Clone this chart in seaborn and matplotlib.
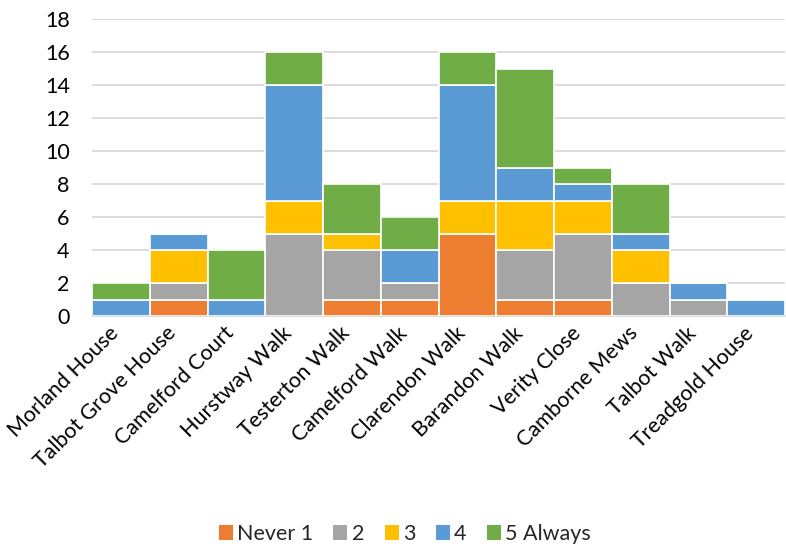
import matplotlib
matplotlib.use("Agg")
import matplotlib.pyplot as plt
import matplotlib.transforms as mtransforms
import seaborn as sns
import numpy as np
from matplotlib.patches import Patch

sns.set_theme(style="white")
plt.rcParams['font.family'] = ['Lato', 'DejaVu Sans']

locations = ["Morland House", "Talbot Grove House", "Camelford Court", "Hurstway Walk",
             "Testerton Walk", "Camelford Walk", "Clarendon Walk", "Barandon Walk",
             "Verity Close", "Camborne Mews", "Talbot Walk", "Treadgold House"]
series_names = ["Never 1", "2", "3", "4", "5 Always"]
never_1 = [0, 1, 0, 0, 1, 1, 5, 1, 1, 0, 0, 0]
score_2 = [0, 1, 0, 5, 3, 1, 0, 3, 4, 2, 1, 0]
score_3 = [0, 2, 0, 2, 1, 0, 2, 3, 2, 2, 0, 0]
score_4 = [1, 1, 1, 7, 0, 2, 7, 2, 1, 1, 1, 1]
always_5 = [1, 0, 3, 2, 3, 2, 2, 6, 1, 3, 0, 0]
colors = ["#ED7D31", "#A5A5A5", "#FFC000", "#5B9BD5", "#70AD47"]

fig = plt.figure(figsize=(7.86, 5.46), dpi=100)
ax = fig.add_axes([0.117, 0.421, 0.882, 0.544])

bottom = np.zeros(len(locations))
for name, vals, col in zip(series_names, [never_1, score_2, score_3, score_4, always_5], colors):
    sns.barplot(x=locations, y=vals, bottom=bottom, color=col, width=1.0, saturation=1,
                edgecolor="white", linewidth=1.2, ax=ax, zorder=3)
    bottom = bottom + np.array(vals)

ax.set_ylim(0, 18)
ax.set_xlim(-0.5, len(locations) - 0.5)
ax.set_yticks(range(0, 19, 2))
ax.yaxis.grid(True, color="#d9d9d9", linewidth=1.3, zorder=0)
ax.set_axisbelow(True)
for s in ["top", "right", "left"]:
    ax.spines[s].set_visible(False)
ax.spines["bottom"].set_color("#d9d9d9")
ax.spines["bottom"].set_linewidth(1.3)
ax.tick_params(axis="both", length=0, labelsize=15.5, colors="black")
ax.tick_params(axis="y", pad=16)
ax.tick_params(axis="x", pad=9)
shift = mtransforms.ScaledTranslation(-4 / 72, -1 / 72, fig.dpi_scale_trans)
for lbl in ax.get_xticklabels():
    lbl.set_rotation(45)
    lbl.set_ha("right")
    lbl.set_va("center")
    lbl.set_rotation_mode("anchor")
    lbl.set_transform(lbl.get_transform() + shift)
ax.set_xlabel("")
ax.set_ylabel("")

handles = [Patch(facecolor=c, edgecolor="none") for c in colors]
fig.legend(handles, series_names, loc="lower center", bbox_to_anchor=(0.515, -0.032),
           ncol=5, frameon=False, fontsize=15.5, handlelength=0.65, handleheight=0.65,
           handletextpad=0.2, columnspacing=0.95)

fig.savefig("out.png", dpi=100)
